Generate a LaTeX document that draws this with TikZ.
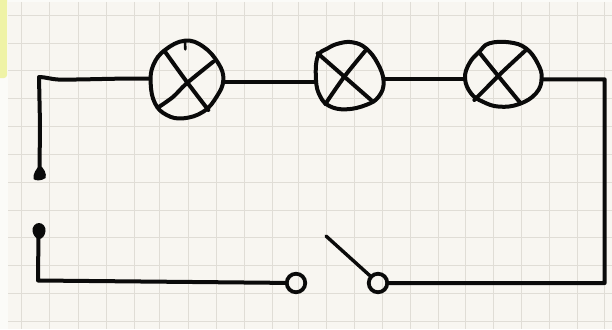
\documentclass[tikz,border=0pt]{standalone}
\definecolor{paper}{HTML}{F8F6F1}
\definecolor{gridc}{HTML}{E0DDD6}
\definecolor{tabc}{HTML}{EFF3A6}
\definecolor{outer}{HTML}{FBFBF8}
\definecolor{ink}{HTML}{0A0A0A}
\tikzset{
  wire/.style={ink,line width=4pt,line join=round,line cap=round},
  lampline/.style={ink,line width=4pt,line join=round,line cap=round},
  gridline/.style={gridc,line width=0.9pt},
  contact/.style={circle,draw=ink,line width=3.8pt,inner sep=0pt,minimum size=18.5pt},
  zoomed/.style={x=0.33333pt,y=-0.33333pt}
}
\begin{document}
\begin{tikzpicture}[x=1pt,y=-1pt]
\useasboundingbox (0,0) rectangle (612,329);
\fill[outer] (0,0) rectangle (612,329);
\fill[tabc,rounded corners=3pt] (-5,-5) rectangle (7,78);
\fill[paper] (8,2) rectangle (612,329);
\foreach \gx in {21,49,78,106,134,159,188,216,244,272,298,326,354,382,410,438,465,493,521,549,577,604}
  \draw[gridline] (\gx,2) -- (\gx,329);
\foreach \gy in {15,43,70,98,126,154,182,210,237,265,293,321}
  \draw[gridline] (8,\gy) -- (612,\gy);
% lamp 1
\begin{scope}[zoomed]
\draw[lampline] plot[smooth cycle,tension=0.7] coordinates {(555,122)(610,140)(655,190)(670,240)(650,290)(610,335)(550,355)(500,345)(465,310)(452,250)(460,195)(495,150)};
\draw[lampline] plot[smooth,tension=0.5] coordinates {(495,155)(560,245)(625,330)};
\draw[lampline] plot[smooth,tension=0.5] coordinates {(640,185)(560,250)(520,290)(478,320)};
\draw[lampline,line width=2.6pt] (555,125) -- (556,148);
\coordinate (lampAw) at (450,236);
\coordinate (lampAe) at (672,246);
\end{scope}
\begin{scope}[zoomed,shift={(306pt,0pt)}]
% lamp 2
\draw[lampline] plot[smooth cycle,tension=0.7] coordinates {(140,127)(180,145)(215,190)(233,245)(218,290)(180,315)(120,328)(70,318)(42,288)(30,240)(35,170)(65,145)(100,130)};
\draw[lampline] plot[smooth,tension=0.5] coordinates {(35,160)(115,230)(195,300)};
\draw[lampline] plot[smooth,tension=0.5] coordinates {(180,150)(115,230)(58,312)};
\coordinate (lampBw) at (30,246);
\coordinate (lampBe) at (233,238);
% lamp 3
\draw[lampline] plot[smooth cycle,tension=0.7] coordinates {(610,127)(660,145)(695,190)(707,235)(690,280)(640,312)(580,320)(530,305)(495,280)(477,235)(490,190)(520,155)(550,130)};
\draw[lampline] plot[smooth,tension=0.5] coordinates {(522,160)(580,232)(640,305)};
\draw[lampline] plot[smooth,tension=0.5] coordinates {(660,150)(590,215)(540,265)(505,300)};
\coordinate (lampCw) at (477,238);
\coordinate (lampCe) at (707,238);
\coordinate (cornerNE) at (896,238);
\coordinate (cornerSE) at (896,849);
\end{scope}
% terminals
\node[contact] (contactA) at (296,283) {};
\node[contact] (contactB) at (378,283) {};
\fill[ink] (39.5,165) .. controls (44,168) and (47,174) .. (45.5,178) .. controls (42,181) and (35,181) .. (33.5,179) .. controls (33,173) and (36,170) .. (39.5,165) -- cycle;
\coordinate (dotA) at (39.5,170);
\fill[ink] (39,223) .. controls (43,223) and (46,227) .. (45.5,231) .. controls (45,236) and (42,239) .. (39,239) .. controls (36,239) and (33,235) .. (32.5,231) .. controls (32,227) and (35,223) .. (39,223) -- cycle;
\coordinate (dotB) at (38.5,232);
% wires
\coordinate (cornerNW) at (39,77);
\coordinate (cornerSW) at (38,280.5);
\coordinate (bladeTip) at (326,236);
\draw[wire] (lampAw) .. controls (120,78) and (80,80) .. (58,79.5) .. controls (50,79) and (45,77) .. (cornerNW) -- (40,125) -- (dotA);
\draw[wire] (lampAe) -- (lampBw);
\draw[wire] (lampBe) -- (lampCw);
\draw[wire] (lampCe) -- (cornerNE) -- (cornerSE) -- (contactB);
\draw[wire] (dotB) -- (cornerSW) -- (contactA);
\draw[wire,line width=3.4pt] (bladeTip) -- (contactB);
\end{tikzpicture}
\end{document}
